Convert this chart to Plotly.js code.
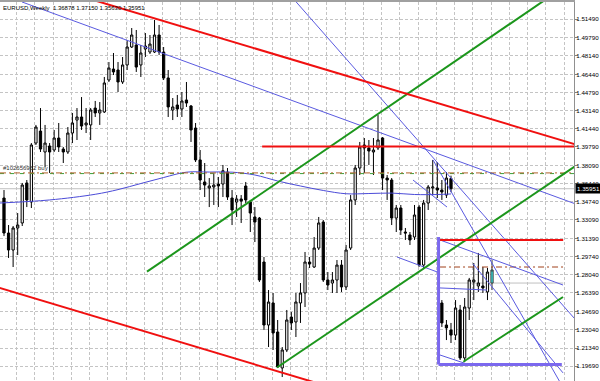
<!DOCTYPE html>
<html><head><meta charset="utf-8">
<script src="https://cdn.plot.ly/plotly-3.0.1.min.js"></script>
<style>html,body{margin:0;padding:0;background:#fff}#chart{width:600px;height:381px}</style>
</head><body><div id="chart"></div>
<script>
// EURUSD weekly bars (oldest first)
const open = [1.3510,1.3189,1.3033,1.3235,1.3281,1.3648,1.3473,1.4014,1.4124,1.3932,
1.3987,1.3950,1.4060,1.3959,1.3932,1.4106,1.4225,1.4253,1.4180,1.4180,
1.4335,1.4290,1.4299,1.4592,1.4693,1.4684,1.4574,1.4730,1.4895,1.4913,
1.4730,1.4877,1.4849,1.4849,1.5005,1.4849,1.4611,1.4317,1.4363,1.4326,
1.4409,1.4354,1.4152,1.3859,1.3657,1.3602,1.3611,1.3638,1.3638,1.3748,
1.3510,1.3473,1.3501,1.3620,1.3473,1.3336,1.3326,1.2923,1.2345,1.2547,
1.2281,1.1951,1.2116,1.2418,1.2373,1.2547,1.2639,1.2923,1.2877,1.3051,
1.3290,1.2758,1.2730,1.2758,1.2895,1.2694,1.3051,1.3492,1.3785,1.3996,
1.3969,1.3932,1.3969,1.4060,1.3693,1.3675,1.3326,1.3418,1.3198,1.3171,
1.3152,1.3427,1.2895,1.3464,1.3602,1.3602,1.3583,1.3537,1.36878];
const high = [1.3583,1.3262,1.3253,1.3372,1.3648,1.3675,1.4014,1.4180,1.4335,1.4180,
1.4014,1.4134,1.4198,1.3978,1.4161,1.4290,1.4335,1.4436,1.4335,1.4335,
1.4400,1.4390,1.4620,1.4757,1.4840,1.4757,1.4803,1.4959,1.5069,1.5051,
1.4913,1.5023,1.5005,1.5143,1.5097,1.4895,1.4684,1.4427,1.4455,1.4482,
1.4574,1.4363,1.4198,1.3950,1.3831,1.3693,1.3739,1.3703,1.3813,1.3785,
1.3583,1.3537,1.3537,1.3657,1.3492,1.3427,1.3336,1.2969,1.2666,1.2639,
1.2391,1.2143,1.2483,1.2464,1.2639,1.2730,1.3015,1.2969,1.3152,1.3336,
1.3308,1.2831,1.2831,1.2941,1.2941,1.3079,1.3537,1.3813,1.4024,1.4060,
1.4042,1.4060,1.4271,1.4069,1.3721,1.3693,1.3446,1.3446,1.3235,1.3198,
1.3446,1.3446,1.3492,1.3629,1.3859,1.3840,1.3675,1.3748,1.37150];
const low = [1.3161,1.2960,1.2877,1.2987,1.3253,1.3427,1.3418,1.3996,1.3932,1.3794,
1.3739,1.3932,1.3932,1.3831,1.3914,1.4014,1.4042,1.4134,1.4106,1.4042,
1.4253,1.4180,1.4290,1.4574,1.4638,1.4482,1.4556,1.4684,1.4886,1.4666,
1.4620,1.4803,1.4831,1.4840,1.4822,1.4592,1.4253,1.4225,1.4253,1.4253,
1.4345,1.4024,1.3840,1.3583,1.3519,1.3427,1.3446,1.3427,1.3519,1.3492,
1.3262,1.3336,1.3281,1.3464,1.3198,1.3106,1.2740,1.2299,1.2143,1.2116,
1.1951,1.1868,1.2097,1.2299,1.2235,1.2364,1.2510,1.2868,1.2868,1.3033,
1.2740,1.2666,1.2639,1.2639,1.2648,1.2666,1.3033,1.3446,1.3721,1.3739,
1.3813,1.3721,1.3950,1.3583,1.3492,1.3262,1.3198,1.3171,1.3125,1.3079,
1.3125,1.2877,1.2868,1.3400,1.3537,1.3510,1.3492,1.3510,1.35630];
const close = [1.3189,1.3033,1.3235,1.3262,1.3629,1.3492,1.3996,1.4161,1.3959,1.4014,
1.3932,1.4060,1.3978,1.3932,1.4106,1.4198,1.4253,1.4170,1.4198,1.4317,
1.4290,1.4317,1.4565,1.4702,1.4666,1.4574,1.4730,1.4895,1.5005,1.4711,
1.4840,1.4904,1.4922,1.5005,1.4849,1.4611,1.4345,1.4345,1.4326,1.4400,
1.4381,1.4134,1.3859,1.3675,1.3629,1.3620,1.3629,1.3620,1.3760,1.3519,
1.3400,1.3501,1.3482,1.3492,1.3372,1.3290,1.2758,1.2345,1.2556,1.2272,
1.1960,1.2116,1.2391,1.2364,1.2556,1.2639,1.2923,1.2905,1.3051,1.3281,
1.2758,1.2712,1.2758,1.2895,1.2694,1.3033,1.3492,1.3785,1.3978,1.3969,
1.3941,1.3950,1.4042,1.3693,1.3675,1.3326,1.3418,1.3216,1.3189,1.3125,
1.3354,1.2895,1.3464,1.3611,1.3611,1.3583,1.3565,1.3693,1.35951];

// moving average sampled along the bars
const maBars = [-0.88,10,20,25,30,35,40,45,50,55,60,65,70,75,80,85,90,95,98];
const maValues = [1.3464,1.3492,1.3544,1.3587,1.3643,1.3698,1.3747,1.3748,1.3747,1.3721,
1.3666,1.3620,1.3579,1.3549,1.3551,1.3555,1.3542,1.3542,1.3547];

// miniature chart in the lower-right frame
const insetBars = [96,97,98,99,100,101,102,103,104,105,106];
const insetOpen  = [1.2547,1.2345,1.2299,1.2253,1.2483,1.2043,1.2501,1.2740,1.2703,1.2703,1.2648];
const insetHigh  = [1.2574,1.2391,1.2364,1.2574,1.2529,1.2593,1.2777,1.2914,1.3006,1.2877,1.2868];
const insetLow   = [1.2327,1.2207,1.2180,1.2207,1.2024,1.2006,1.2391,1.2574,1.2648,1.2639,1.2574];
const insetClose = [1.2364,1.2318,1.2253,1.2501,1.2043,1.2510,1.2758,1.2758,1.2730,1.2685,1.2831];
const insetLastBar = [107];
const insetLast = {open: [1.2730], high: [1.2941], low: [1.2666], close: [1.2850]};

// price scale labels
const tickVals = [1.51490,1.49790,1.48140,1.46440,1.44790,1.43140,1.41440,1.39790,1.38090,1.36440,
1.34740,1.33090,1.31390,1.29740,1.28040,1.26390,1.24690,1.23040,1.21340,1.19690];

const symbolTitle = 'EURUSD,Weekly';
const lastQuote = [1.36878, 1.37150, 1.35630, 1.35951];
const bidPrice = 1.35951;
const orderPrice = 1.3740;
const orderLabel = '#102656962 buy';

// drawn objects: [bar1, price1, bar2, price2, extend]
const redLines = [
  [21.0, 1.5308, 125.0, 1.4005, 'both'],
  [-0.88, 1.2685, 64.9, 1.1859, 'both'],
  [56.6, 1.3983, 126.0, 1.3983, 'none'],
  [95.6, 1.3125, 122.6, 1.3125, 'none']
];
const greenLines = [
  [31.35, 1.2834, 117.96, 1.5308, 'right'],
  [59.85, 1.1955, 124.97, 1.3794, 'right'],
  [100.7, 1.2008, 122.56, 1.2602, 'none']
];
const blueLines = [
  [3.95, 1.5308, 124.75, 1.3464, 'right'],
  [86.82, 1.4225, 97.79, 1.3703, 'both'],
  [94.06, 1.3859, 102.83, 1.3217, 'right'],
  [86.16, 1.2969, 95.59, 1.2822, 'none'],
  [89.67, 1.3675, 97.13, 1.3427, 'none'],
  [95.59, 1.3125, 122.56, 1.2712, 'none'],
  [95.59, 1.2685, 105.9, 1.2666, 'none'],
  [95.59, 1.2070, 102.17, 1.1978, 'none'],
  [102.83, 1.2906, 122.56, 1.1906, 'none']
];
const insetLevels = {red: 1.3125, order: 1.2877, bid: 1.2730, from: 95.6, to: 122.6};
const frame = {left: 95.27, right: 122.3, top: 1.3152, bottom: 1.1983};

const X_RANGE = [-0.877, 124.97];
const Y_RANGE = [1.18315, 1.53077];

function lineShape(l, color, width, dash) {
  let [b1, p1, b2, p2, ext] = l;
  const k = (p2 - p1) / (b2 - b1);
  if (ext === 'both' || ext === 'left') { p1 = p1 + k * (-10 - b1); b1 = -10; }
  if (ext === 'both' || ext === 'right') { p2 = p2 + k * (140 - b2); b2 = 140; }
  return {type: 'line', xref: 'x', yref: 'y', x0: b1, y0: p1, x1: b2, y1: p2,
          line: {color: color, width: width, dash: dash || 'solid'}, layer: 'above'};
}

const shapes = [];
// bid line
shapes.push({type:'line', xref:'paper', yref:'y', x0:0, x1:1, y0:bidPrice, y1:bidPrice,
  line:{color:'#c0c0c0', width:1}, layer:'below'});
// order line
shapes.push({type:'line', xref:'paper', yref:'y', x0:0, x1:1, y0:orderPrice - 0.0006, y1:orderPrice - 0.0006,
  line:{color:'#3aa03a', width:1, dash:'4px,6px'}, layer:'above'});
shapes.push({type:'line', xref:'paper', yref:'y', x0:0, x1:1, y0:orderPrice, y1:orderPrice,
  line:{color:'#b0602a', width:1, dash:'6px,3px,2px,3px'}, layer:'above'});
// inset levels
shapes.push({type:'line', xref:'x', yref:'y', x0:insetLevels.from, x1:insetLevels.to, y0:insetLevels.bid, y1:insetLevels.bid,
  line:{color:'#c0c0c0', width:1}, layer:'below'});
shapes.push({type:'line', xref:'x', yref:'y', x0:insetLevels.from, x1:insetLevels.to, y0:insetLevels.order, y1:insetLevels.order,
  line:{color:'#a0401a', width:1, dash:'6px,3px,2px,3px'}, layer:'above'});
blueLines.forEach(l => shapes.push(lineShape(l, '#5a5ae0', 1)));
greenLines.forEach(l => shapes.push(lineShape(l, '#1c961c', 2)));
redLines.forEach(l => shapes.push(lineShape(l, '#f01010', 2)));
// frame around the miniature
shapes.push({type:'line', xref:'x', yref:'y', x0:frame.left, x1:frame.left, y0:frame.top, y1:frame.bottom,
  line:{color:'#7b68ee', width:3}, layer:'above'});
shapes.push({type:'line', xref:'x', yref:'y', x0:frame.left, x1:frame.right, y0:frame.bottom, y1:frame.bottom,
  line:{color:'#7b68ee', width:3}, layer:'above'});

const bars = open.map((_, i) => i);
const candleStyle = {
  increasing: {line: {color: '#000000', width: 1}, fillcolor: '#ffffff'},
  decreasing: {line: {color: '#000000', width: 1}, fillcolor: '#000000'},
  whiskerwidth: 0, hoverinfo: 'skip', showlegend: false
};

const traces = [
  Object.assign({type:'scatter', mode:'lines', x: maBars, y: maValues,
    line:{color:'#4b4bd8', width:1, shape:'spline'}, hoverinfo:'skip', showlegend:false}),
  Object.assign({type:'candlestick', x: bars, open, high, low, close}, candleStyle),
  Object.assign({type:'candlestick', x: insetBars, open: insetOpen, high: insetHigh, low: insetLow, close: insetClose,
    xaxis:'x2', yaxis:'y2'}, candleStyle),
  Object.assign({type:'candlestick', x: insetLastBar, open: insetLast.open, high: insetLast.high, low: insetLast.low,
    close: insetLast.close, xaxis:'x2', yaxis:'y2'}, candleStyle,
    {increasing: {line: {color: '#404040', width: 1}, fillcolor: '#33e6e6'}})
];

const tickFont = {family: 'Liberation Sans, Arial, sans-serif', size: 6.2, color: '#000'};

const layout = {
  width: 600, height: 381,
  margin: {l: 0, r: 26, t: 2, b: 0, pad: 0},
  paper_bgcolor: '#ffffff', plot_bgcolor: '#ffffff',
  showlegend: false,
  xaxis: {range: X_RANGE, showticklabels: false, ticks: '', zeroline: false,
    showgrid: true, tick0: 2.78, dtick: 4, gridcolor: '#c4c4c4', griddash: '3px,2px',
    showline: true, side: 'top', linecolor: '#a0a0a0', linewidth: 2,
    rangeslider: {visible: false}, fixedrange: true},
  yaxis: {range: Y_RANGE, side: 'right', tickmode: 'array', tickvals: tickVals,
    ticktext: tickVals.map(v => v.toFixed(5)), tickfont: tickFont,
    ticks: 'outside', ticklen: 3, tickcolor: '#808080', ticklabelstandoff: -3,
    showgrid: true, gridcolor: '#c4c4c4', griddash: '3px,2px', zeroline: false,
    showline: true, linecolor: '#909090', linewidth: 1, fixedrange: true},
  xaxis2: {range: X_RANGE, overlaying: 'x', visible: false, rangeslider: {visible: false}},
  yaxis2: {range: Y_RANGE, overlaying: 'y', visible: false},
  shapes: shapes,
  annotations: [
    {xref:'paper', yref:'paper', x:0, y:1, xanchor:'left', yanchor:'top', xshift:1, yshift:-1,
     text: symbolTitle + '  ' + lastQuote.map(v => v.toFixed(5)).join(' '), showarrow:false,
     font:{family:'Liberation Sans, Arial, sans-serif', size:6, color:'#000'}},
    {xref:'paper', yref:'y', x:0, y:orderPrice, xanchor:'left', yanchor:'bottom', xshift:1, yshift:0,
     text: orderLabel, showarrow:false,
     font:{family:'Liberation Sans, Arial, sans-serif', size:6, color:'#303030'}},
    {xref:'paper', yref:'y', x:1, y:bidPrice, xanchor:'left', yanchor:'middle', xshift:1,
     text: bidPrice.toFixed(5), showarrow:false, bgcolor:'#000000', borderpad:1,
     font:{family:'Liberation Sans, Arial, sans-serif', size:6.2, color:'#ffffff'}}
  ]
};

Plotly.newPlot('chart', traces, layout, {staticPlot: true, displayModeBar: false});
</script>
</body></html>
